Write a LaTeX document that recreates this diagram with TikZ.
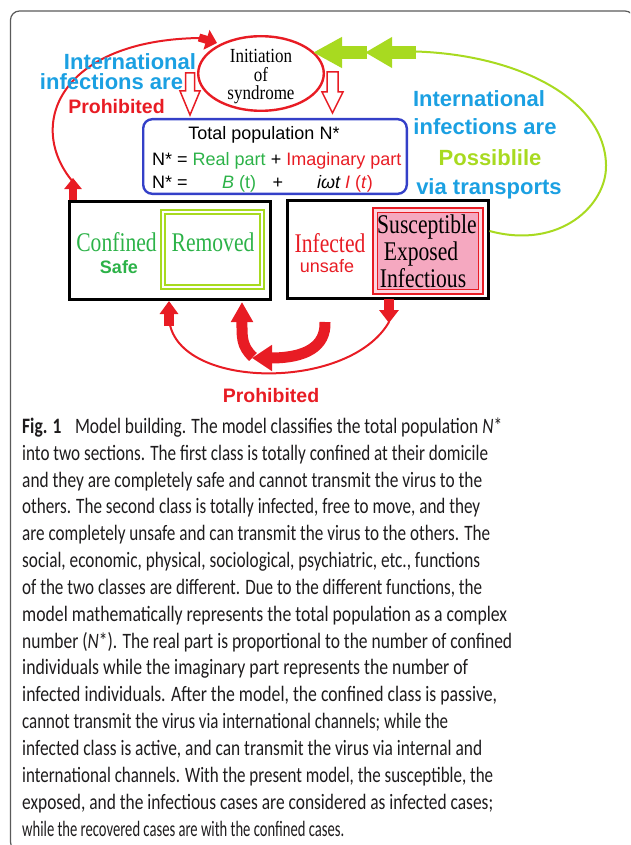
\documentclass[tikz,border=0pt]{standalone}
\usepackage{fontspec}
\usepackage{graphicx}
\setmainfont{Liberation Serif}
\setsansfont{Liberation Sans}
\newfontfamily\sqserif[FakeStretch=0.8]{Liberation Serif}
\newfontfamily\elserif[FakeStretch=0.85]{Liberation Serif}
\newfontfamily\capfont{Carlito}
\usetikzlibrary{shapes.geometric,arrows.meta}
\definecolor{dred}{RGB}{232,28,36}
\definecolor{tblue}{RGB}{27,160,226}
\definecolor{bblue}{RGB}{52,64,200}
\definecolor{tgreen}{RGB}{44,178,72}
\definecolor{ygreen}{RGB}{168,218,32}
\definecolor{pinkfill}{RGB}{245,168,192}
\definecolor{pinklight}{RGB}{252,215,225}
\definecolor{framegray}{RGB}{90,90,90}
\definecolor{captext}{RGB}{30,28,29}
\newcommand\capl[4]{\node[capline] (cap#1) at (22,#2) {\resizebox{#3pt}{\height}{\capfont\fontsize{22}{26}\selectfont #4}};}
\tikzset{
  txt/.style={inner sep=0pt, anchor=base},
  sansm/.style={txt, font=\sffamily\fontsize{18}{20}\selectfont},
  bigblue/.style={txt, font=\sffamily\bfseries\fontsize{22}{24}\selectfont, text=tblue},
  redbold/.style={txt, font=\sffamily\bfseries\fontsize{19.5}{22}\selectfont, text=dred},
  boxserif/.style={txt, font=\sqserif\fontsize{27}{29}\selectfont},
  blackbox/.style={draw=black, line width=3pt, minimum width=201pt, minimum height=98pt, inner sep=0pt},
  thinred/.style={dred, line width=2pt},
  hollow/.style={draw=dred, line width=1.5pt, fill=white, line join=miter},
  capline/.style={anchor=base west, inner sep=0pt, text=captext},
}
\begin{document}
\begin{tikzpicture}[x=1pt,y=-1pt]
\useasboundingbox (0,0) rectangle (630,845);
\begin{scope}
  \clip (0,0) rectangle (630,845);
  \draw[framegray, line width=1.2pt, rounded corners=9pt] (10.5,11) rectangle (634,851);
\end{scope}

% ellipse
\node[ellipse, draw=dred, line width=2.4pt, minimum width=125.6pt, minimum height=74.6pt, inner sep=0pt] (init) at (261,73.5) {};
\node[font=\elserif\fontsize{20}{18.5}\selectfont, align=center, inner sep=0pt] (inittxt) at (261,76.7) {Initiation\\of\\syndrome};

% left red arc
\coordinate (lbot) at (73,182);
\coordinate (ltop) at (200,38);
\draw[thinred] (lbot) .. controls (25,125) and (60,40) .. (ltop);
\draw[dred, line width=8pt, -{Triangle[length=11pt,width=20pt]}] (199,37.5) -- (217,43);
\draw[dred, line width=8pt, -{Triangle[length=11pt,width=17pt]}] (73,201) -- (73,178);

% left texts
\node[bigblue] (lt1) at (130,70) {International};
\node[bigblue] (lt2) at (111.5,90) {infections are};
\node[redbold] (lt3) at (116.5,114) {Prohibited};

% hollow arrows
\draw[hollow] (185.5,73) -- (194.5,73) -- (194.5,91) -- (200,91) -- (190,115) -- (180,91) -- (185.5,91) -- cycle;
\draw[hollow] (327,72) -- (338,72) -- (338,92) -- (343,92) -- (332.5,113) -- (322,92) -- (327,92) -- cycle;

% total population box
\node[draw=bblue, line width=2.4pt, rounded corners=9pt, minimum width=263.6pt, minimum height=74.6pt, inner sep=0pt] (total) at (275,156.5) {};
\node[sansm] (t1) at (264,140) {Total population N*};
\node[sansm, anchor=base west] (t2) at (152,165) {N* = \textcolor{tgreen}{Real part} + \textcolor{dred}{Imaginary part}};
\node[sansm, anchor=base west] (t3a) at (152,188) {N* =};
\node[sansm, anchor=base west, text=tgreen] (t3b) at (222,188) {\textit{B} (t)};
\node[sansm] (t3c) at (278,188) {+};
\node[sansm, anchor=base west] (t3d) at (317,188) {\textit{iωt}};
\node[sansm, anchor=base west, text=dred] (t3e) at (345,188) {\textit{I} (\textit{t})};

% right texts
\node[bigblue] (rt1) at (479,107) {International};
\node[bigblue] (rt2) at (485,135) {infections are};
\node[bigblue, text=ygreen] (rt3) at (490,165) {Possiblile};
\node[bigblue] (rt4) at (489,194) {via transports};

% boxes
\node[blackbox] (confined) at (170,250.5) {};
\node[blackbox] (infected) at (387.5,249.5) {};
\node[draw=ygreen, double=white, double distance=2.4pt, line width=1.6pt, minimum width=99.4pt, minimum height=75.4pt, inner sep=0pt] (removed) at (212.5,249.5) {};
\node[draw=dred, line width=1.6pt, fill=pinklight, minimum width=110.4pt, minimum height=86.4pt, inner sep=0pt] (sei) at (428,251) {};
\draw[dred, line width=1.3pt, fill=pinkfill] ([shift={(5.5,5.5)}]sei.north west) rectangle ([shift={(-5.5,-5.5)}]sei.south east);

\node[boxserif, text=tgreen] (conftxt) at (116.5,251) {Confined};
\node[txt, font=\sffamily\bfseries\fontsize{18}{20}\selectfont, text=tgreen] (safetxt) at (119,273) {Safe};
\node[boxserif, text=tgreen] (remtxt) at (213,251) {Removed};
\node[boxserif, text=dred] (inftxt) at (330,252) {Infected};
\node[sansm, text=dred] (unsafetxt) at (327,272) {unsafe};
\node[boxserif] (s1) at (427,233) {Susceptible};
\node[boxserif] (s2) at (421,260) {Exposed};
\node[boxserif] (s3) at (423,287) {Infectious};

% green arc and arrows
\coordinate (gstart) at ([yshift=18.5pt]infected.east);
\coordinate (gend) at (416,51.5);
\draw[ygreen, line width=2pt] (gstart) .. controls (560,250) and (607,205) .. (606,165) .. controls (605,100) and (520,55) .. (gend);
\draw[ygreen, line width=13pt, -{Triangle[length=27pt,width=29pt]}] (416,52.5) -- (365,52.5);
\draw[ygreen, line width=13pt, -{Triangle[length=29pt,width=29pt]}] (367,52.5) -- (313,52.5);

% bottom arrows
\draw[dred, line width=10pt, -{Triangle[length=13pt,width=19pt]}] (389,299) -- (389,323);
\draw[thinred] (170,325) .. controls (185,390) and (350,390) .. (389,322);
\draw[dred, line width=10pt, -{Triangle[length=13pt,width=18pt]}] (169,326) -- (169,301);
\draw[dred, line width=11pt, -{Triangle[length=20pt,width=25pt]}] (325,322) .. controls (326,347) and (305,358) .. (252,358);
\draw[dred, line width=11pt, -{Triangle[length=20pt,width=21pt]}] (253,357) .. controls (241,346) and (242,336) .. (242,302);
\node[redbold] (proh) at (271,402) {Prohibited};

% caption
\capl{1}{433.3}{480}{\textbf{Fig. 1}\hspace{0.55em} Model building. The model classifies the total population \textit{N}*}
\capl{2}{460.15}{466}{into two sections. The first class is totally confined at their domicile}
\capl{3}{487.0}{460}{and they are completely safe and cannot transmit the virus to the}
\capl{4}{513.85}{458}{others. The second class is totally infected, free to move, and they}
\capl{5}{540.7}{468}{are completely unsafe and can transmit the virus to the others. The}
\capl{6}{567.55}{458}{social, economic, physical, sociological, psychiatric, etc., functions}
\capl{7}{594.4}{460}{of the two classes are different. Due to the different functions, the}
\capl{8}{621.25}{485}{model mathematically represents the total population as a complex}
\capl{9}{648.1}{490}{number (\textit{N}*). The real part is proportional to the number of confined}
\capl{10}{674.95}{446}{individuals while the imaginary part represents the number of}
\capl{11}{701.8}{475}{infected individuals. After the model, the confined class is passive,}
\capl{12}{728.65}{426}{cannot transmit the virus via international channels; while the}
\capl{13}{755.5}{460}{infected class is active, and can transmit the virus via internal and}
\capl{14}{782.35}{471}{international channels. With the present model, the susceptible, the}
\capl{15}{809.2}{471}{exposed, and the infectious cases are considered as infected cases;}
\capl{16}{836.05}{322}{while the recovered cases are with the confined cases.}
\end{tikzpicture}
\end{document}
